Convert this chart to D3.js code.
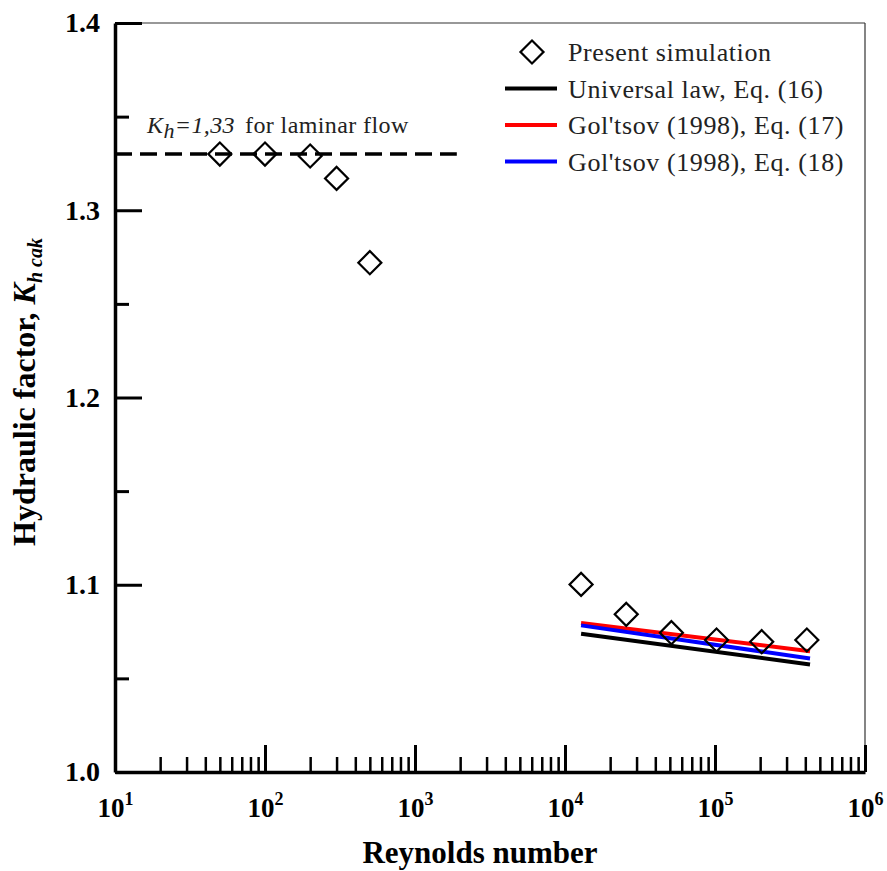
<!DOCTYPE html>
<html>
<head>
<meta charset="utf-8">
<script src="https://cdn.jsdelivr.net/npm/d3@7"></script>
</head>
<body style="margin:0;background:#fff">
<svg id="chart" width="887" height="871" style="display:block"></svg>
<script>
// Simulated hydraulic factor, laminar regime
const reLaminar = [50, 100, 200, 300, 500];
const kLaminar = [1.330, 1.330, 1.329, 1.317, 1.272];

// Simulated hydraulic factor, turbulent regime
const reTurbulent = [12800, 25600, 51200, 102400, 204800, 409600];
const kTurbulent = [1.1002, 1.0842, 1.0744, 1.0705, 1.0696, 1.0705];

// Correlation curves (straight in log Re)
const reModel = [12800, 430000];
const kUniversal = [1.0738, 1.0574];
const kGoltsov17 = [1.0796, 1.0645];
const kGoltsov18 = [1.0783, 1.0606];

// Laminar reference level
const kLaminarRef = 1.33;
const reLaminarRef = [10, 1900];

// Axis ticks
const yMajorTicks = [1.0, 1.1, 1.2, 1.3, 1.4];
const yMinorTicks = [1.05, 1.15, 1.25, 1.35];
const xMajorTicks = [10, 100, 1000, 10000, 100000, 1000000];
const xExponents = ["1", "2", "3", "4", "5", "6"];

const legendLabels = [
  "Present simulation",
  "Universal law, Eq. (16)",
  "Gol'tsov (1998), Eq. (17)",
  "Gol'tsov (1998), Eq. (18)"
];
const seriesColors = ["#000000", "#000000", "#ff0000", "#0000ff"];

const FONT = '"Liberation Serif", "Times New Roman", serif';
const svg = d3.select("#chart");
const plotLeft = 115, plotRight = 865, plotTop = 23, plotBottom = 772;

const x = d3.scaleLog().domain([10, 1e6]).range([plotLeft, plotRight]);
const y = d3.scaleLinear().domain([1.0, 1.4]).range([plotBottom, plotTop]);

// minor x ticks: 2..9 within each decade
const xMinorTicks = [];
for (let d = 1; d <= 5; d++) {
  for (let m = 2; m <= 9; m++) xMinorTicks.push(m * Math.pow(10, d));
}

// thin frame on top and right
svg.append("line").attr("x1", plotLeft).attr("x2", plotRight).attr("y1", plotTop).attr("y2", plotTop)
  .attr("stroke", "#333").attr("stroke-width", 1.2);
svg.append("line").attr("x1", plotRight).attr("x2", plotRight).attr("y1", plotTop).attr("y2", plotBottom)
  .attr("stroke", "#333").attr("stroke-width", 1.2);

// y axis: minor ticks
svg.append("g").attr("transform", `translate(${plotLeft},0)`)
  .call(d3.axisLeft(y).tickValues(yMinorTicks).tickSize(-14).tickSizeOuter(0).tickFormat(""))
  .call(g => g.select(".domain").remove())
  .call(g => g.selectAll(".tick line").attr("stroke-width", 3));

// y axis: major ticks with labels
svg.append("g").attr("transform", `translate(${plotLeft},0)`)
  .call(d3.axisLeft(y).tickValues(yMajorTicks).tickSize(-27).tickSizeOuter(0)
    .tickPadding(15).tickFormat(d3.format(".1f")))
  .call(g => g.select(".domain").attr("stroke-width", 3.5))
  .call(g => g.selectAll(".tick line").attr("stroke-width", 3))
  .call(g => g.selectAll(".tick text")
    .attr("font-size", 28).attr("font-weight", "bold").attr("fill", "#000"));

// x axis: minor ticks
svg.append("g").attr("transform", `translate(0,${plotBottom})`)
  .call(d3.axisBottom(x).tickValues(xMinorTicks).tickSize(-15).tickSizeOuter(0).tickFormat(""))
  .call(g => g.select(".domain").remove())
  .call(g => g.selectAll(".tick line").attr("stroke-width", 2.5));

// x axis: decades with superscript labels
const xAxis = svg.append("g").attr("transform", `translate(0,${plotBottom})`)
  .call(d3.axisBottom(x).tickValues(xMajorTicks).tickSize(-27).tickSizeOuter(0).tickFormat(""))
  .call(g => g.select(".domain").attr("stroke-width", 3.5))
  .call(g => g.selectAll(".tick line").attr("stroke-width", 3));

xAxis.selectAll(".tick").each(function (d, i) {
  const t = d3.select(this).select("text")
    .attr("y", 45).attr("dy", 0).attr("x", 0)
    .attr("font-weight", "bold").attr("fill", "#000")
    .attr("text-anchor", "middle");
  t.append("tspan").attr("font-size", 27).text("10");
  t.append("tspan").attr("font-size", 18).attr("dy", -12).text(xExponents[i]);
});

// axis titles
svg.append("text")
  .attr("x", 480).attr("y", 863)
  .attr("text-anchor", "middle")
  .attr("font-size", 31).attr("font-weight", "bold")
  .text("Reynolds number");

const yTitle = svg.append("text")
  .attr("transform", "translate(35,392) rotate(-90)")
  .attr("text-anchor", "middle")
  .attr("font-size", 32).attr("font-weight", "bold");
yTitle.append("tspan").text("Hydraulic factor, ");
yTitle.append("tspan").attr("font-style", "italic").text("K");
yTitle.append("tspan").attr("font-style", "italic").attr("font-size", 20).attr("dy", 7).text("h cak");

// laminar reference line
const line = d3.line().x(d => x(d[0])).y(d => y(d[1]));
svg.append("path")
  .datum(reLaminarRef.map(r => [r, kLaminarRef]))
  .attr("d", line)
  .attr("fill", "none").attr("stroke", "#000").attr("stroke-width", 3.5)
  .attr("stroke-dasharray", "17,8");

const note = svg.append("text").attr("x", 147).attr("y", 133)
  .attr("font-size", 24).attr("letter-spacing", 0.4).attr("fill", "#222");
note.append("tspan").attr("font-style", "italic").text("K");
note.append("tspan").attr("font-style", "italic").attr("font-size", 22).attr("dy", 5).text("h");
note.append("tspan").attr("font-style", "italic").attr("dy", -5).text("=1,33");
note.append("tspan").attr("dx", 10).text("for laminar flow");

// correlation curves
const curves = [kUniversal, kGoltsov17, kGoltsov18];
curves.forEach((vals, i) => {
  svg.append("path")
    .datum(reModel.map((r, j) => [r, vals[j]]))
    .attr("d", line)
    .attr("fill", "none").attr("stroke", seriesColors[i + 1]).attr("stroke-width", 4);
});

// simulation markers
const diamond = d3.symbol().type(d3.symbolSquare).size(265);
const pts = reLaminar.map((r, i) => [r, kLaminar[i]])
  .concat(reTurbulent.map((r, i) => [r, kTurbulent[i]]));
svg.append("g").selectAll("path").data(pts).join("path")
  .attr("d", diamond)
  .attr("transform", d => `translate(${x(d[0])},${y(d[1])}) rotate(45)`)
  .attr("fill", "none").attr("stroke", "#000").attr("stroke-width", 2.2);

// legend
const legend = svg.append("g");
const rowY = [52, 88.5, 125, 161.5];
legendLabels.forEach((lab, i) => {
  if (i === 0) {
    legend.append("path").attr("d", diamond)
      .attr("transform", `translate(532,${rowY[i]}) rotate(45)`)
      .attr("fill", "none").attr("stroke", "#000").attr("stroke-width", 2.2);
  } else {
    legend.append("line").attr("x1", 505).attr("x2", 557)
      .attr("y1", rowY[i]).attr("y2", rowY[i])
      .attr("stroke", seriesColors[i]).attr("stroke-width", 4);
  }
  legend.append("text").attr("x", 568).attr("y", rowY[i] + 9)
    .attr("font-size", 26).attr("letter-spacing", 0.6).attr("fill", "#222").text(lab);
});

// serif face for every label
svg.selectAll("text").style("font-family", FONT);
</script>
</body>
</html>
